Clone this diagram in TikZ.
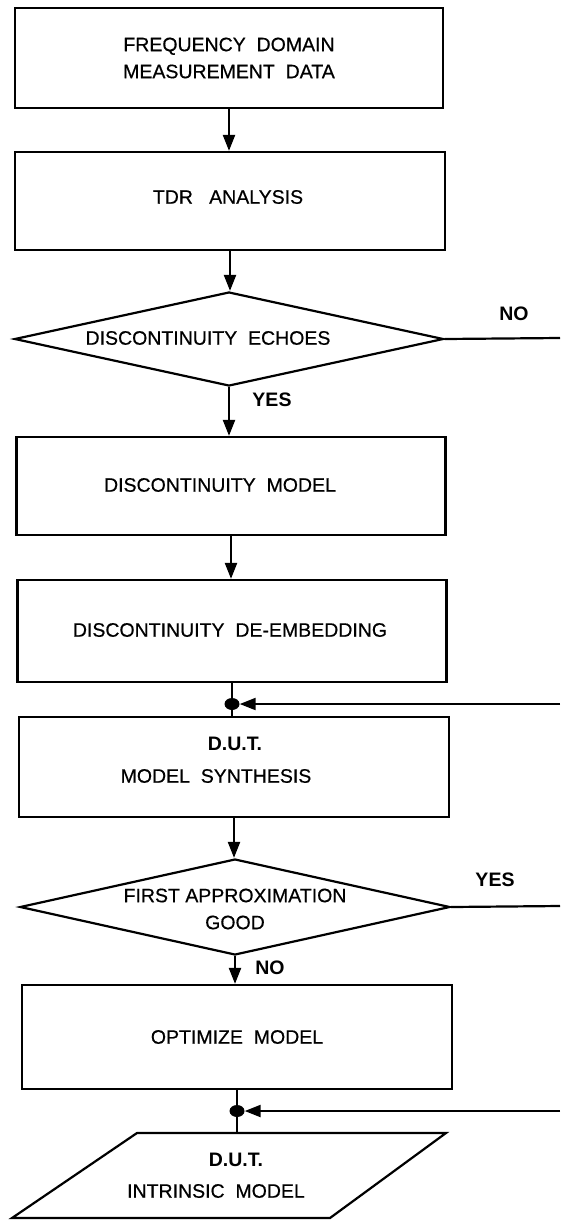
\documentclass[tikz,border=0pt]{standalone}
\usepackage{fontspec}
\setmainfont{Liberation Sans}
\newfontfamily\heavysans{Liberation Sans}[FakeBold=0.5]
\usetikzlibrary{shapes.geometric,arrows.meta}
\begin{document}
\begin{tikzpicture}[x=1pt,y=-1pt,
  box/.style={draw,line width=2.2pt,inner sep=0pt},
  dia/.style={draw,diamond,line width=2.2pt,inner sep=0pt},
  lbl/.style={font=\heavysans\fontsize{19.5}{27}\selectfont,align=center,inner sep=0pt},
  blbl/.style={font=\fontsize{19.5}{27}\selectfont\bfseries,inner sep=0pt},
  conn/.style={line width=2.2pt},
  arr/.style={conn,-{Triangle[width=12pt,length=16pt]}},
  jdot/.style={fill=black,ellipse,minimum width=15pt,minimum height=12pt,inner sep=0pt},
]
\useasboundingbox (0,0) rectangle (560,1224);
% boxes
\node[box,minimum width=428pt,minimum height=100pt] (b1) at (229,58) {};
\node[lbl] (t1) at (229,58) {FREQUENCY\ \ DOMAIN\\MEASUREMENT\ \ DATA};
\node[box,minimum width=430pt,minimum height=98pt] (b2) at (230,201) {};
\node[lbl] (t2) at (228,197) {TDR\ \ \ ANALYSIS};
\node[dia,minimum width=429pt,minimum height=94pt] (d1) at (229,339) {};
\node[lbl] (t3) at (208,338) {DISCONTINUITY\ \ ECHOES};
\node[box,minimum width=429pt,minimum height=98pt] (b3) at (231,486) {};
\node[lbl] (t4) at (220,485) {DISCONTINUITY\ \ MODEL};
\node[box,minimum width=429pt,minimum height=102pt] (b4) at (232,631) {};
\node[lbl] (t5) at (230,630) {DISCONTINUITY\ \ DE-EMBEDDING};
\node[jdot] (j1) at (232,704) {};
\node[box,minimum width=430pt,minimum height=100pt] (b5) at (234,767) {};
\node[blbl] (t6a) at (235,744) {D.U.T.};
\node[lbl] (t6b) at (216,776) {MODEL\ \ SYNTHESIS};
\node[dia,minimum width=430pt,minimum height=96pt] (d2) at (235,907) {};
\node[lbl] (t7) at (235,909) {FIRST APPROXIMATION\\GOOD};
\node[box,minimum width=430pt,minimum height=104pt] (b6) at (237,1037) {};
\node[lbl] (t8) at (237,1037) {OPTIMIZE\ \ MODEL};
\node[jdot] (j2) at (237,1111) {};
% parallelogram
\coordinate (pTL) at (137,1133);
\coordinate (pTR) at (446,1133);
\coordinate (pBR) at (330,1218);
\coordinate (pBL) at (12,1218);
\draw[line width=2.2pt,line join=miter] (pTL) -- (pTR) -- (pBR) -- (pBL) -- cycle;
\coordinate (pTop) at (237,1133);
\node[blbl] (t9a) at (236,1160) {D.U.T.};
\node[lbl] (t9b) at (216,1191) {INTRINSIC\ \ MODEL};
% labels
\node[blbl] (no1) at (514,314) {NO};
\node[blbl] (yes1) at (272,400) {YES};
\node[blbl] (yes2) at (495,880) {YES};
\node[blbl] (no2) at (270,968) {NO};
% right edge coordinates
\coordinate (e1) at (560,338);
\coordinate (e2) at (560,704);
\coordinate (e3) at (560,906);
\coordinate (e4) at (560,1111);
% connectors
\draw[arr] (b1.south) -- (b1.south |- b2.north);
\draw[arr] (b2.south) -- (b2.south |- d1.north);
\draw[arr] (d1.south) -- (d1.south |- b3.north);
\draw[arr] (b3.south) -- (b3.south |- b4.north);
\draw[conn] (b4.south) -- (j1.center) -- (j1.center |- b5.north);
\draw[arr] (b5.south) -- (b5.south |- d2.north);
\draw[arr] (d2.south) -- (d2.south |- b6.north);
\draw[conn] (b6.south) -- (j2.center) -- (pTop);
\draw[conn] (d1.east) -- (e1);
\draw[conn] (d2.east) -- (e3);
\draw[arr] (e2) -- (j1.east);
\draw[arr] (e4) -- (j2.east);
\end{tikzpicture}
\end{document}
